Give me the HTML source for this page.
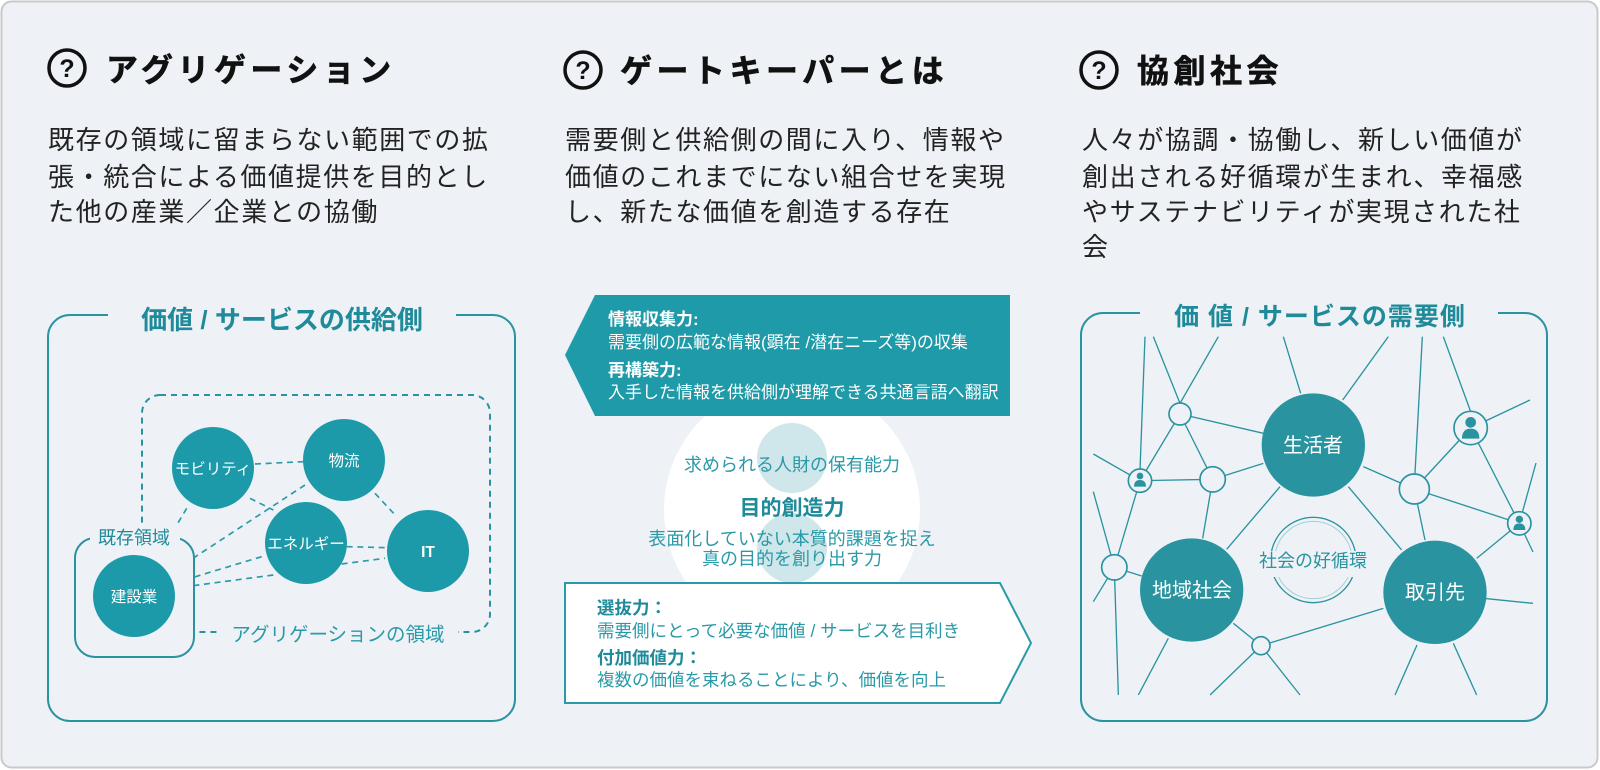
<!DOCTYPE html>
<html><head><meta charset="utf-8">
<style>
html,body{margin:0;padding:0;background:#fff;}
svg{display:block;}
text{font-family:"Liberation Sans","Noto Sans CJK JP",sans-serif;}
</style></head>
<body>
<svg width="1600" height="770" viewBox="0 0 1600 770" xmlns="http://www.w3.org/2000/svg">
<rect x="1.5" y="1.5" width="1596" height="766" rx="10" fill="#eef2f6" stroke="#c9c9c9" stroke-width="2"/>

<!-- Headers -->
<g fill="none" stroke="#111" stroke-width="3.5">
<circle cx="67" cy="68" r="18"/><circle cx="583" cy="70" r="18"/><circle cx="1099" cy="70" r="18"/>
</g>
<g font-size="25" font-weight="bold" fill="#111" text-anchor="middle">
<text x="67" y="77">?</text><text x="583" y="79">?</text><text x="1099" y="79">?</text>
</g>
<g font-size="32" font-weight="bold" fill="#111" letter-spacing="4.5" stroke="#111" stroke-width="0.6">
<text x="106" y="81">アグリゲーション</text>
<text x="620" y="82">ゲートキーパーとは</text>
<text x="1137" y="82">協創社会</text>
</g>
<g font-size="26" fill="#222" letter-spacing="1.6">
<text x="48" y="149">既存の領域に留まらない範囲での拡</text>
<text x="48" y="186">張・統合による価値提供を目的とし</text>
<text x="48" y="221">た他の産業／企業との協働</text>
<text x="565" y="149">需要側と供給側の間に入り、情報や</text>
<text x="565" y="186">価値のこれまでにない組合せを実現</text>
<text x="565" y="221">し、新たな価値を創造する存在</text>
<text x="1082" y="149">人々が協調・協働し、新しい価値が</text>
<text x="1082" y="186">創出される好循環が生まれ、幸福感</text>
<text x="1082" y="221">やサステナビリティが実現された社</text>
<text x="1082" y="256">会</text>
</g>

<!-- Left diagram -->
<rect x="48" y="315" width="467" height="406" rx="22" fill="none" stroke="#2a93a0" stroke-width="2"/>
<rect x="108" y="298" width="348" height="34" fill="#eef2f6"/>
<text x="282" y="329" font-size="26" font-weight="bold" fill="#1f8a99" text-anchor="middle">価値 / サービスの供給側</text>
<rect x="142" y="395" width="348" height="237" rx="18" fill="none" stroke="#2a93a0" stroke-width="2" stroke-dasharray="6 5"/>
<g transform="translate(40 290) scale(0.33333)" stroke="#2a9aa8" stroke-width="5" stroke-dasharray="18 14" fill="none">
<line x1="645" y1="522" x2="790" y2="515"/>
<line x1="630" y1="625" x2="700" y2="660"/>
<line x1="440" y1="655" x2="360" y2="790"/>
<line x1="795" y1="585" x2="390" y2="850"/>
<line x1="665" y1="800" x2="400" y2="880"/>
<line x1="700" y1="855" x2="400" y2="895"/>
<line x1="1005" y1="610" x2="1070" y2="680"/>
<line x1="920" y1="770" x2="1040" y2="773"/>
<line x1="905" y1="822" x2="1035" y2="805"/>
</g>
<rect x="75" y="538" width="119" height="119" rx="20" fill="#eef2f6" stroke="#2a93a0" stroke-width="2"/>
<rect x="90" y="524" width="90" height="26" fill="#eef2f6"/>
<text x="134" y="544" font-size="18" fill="#1f8a99" text-anchor="middle">既存領域</text>
<rect x="218" y="619" width="240" height="28" fill="#eef2f6"/>
<text x="338" y="641" font-size="19.5" fill="#2a9aa8" text-anchor="middle">アグリゲーションの領域</text>
<g fill="#1c9aa9">
<circle cx="213" cy="468" r="41"/><circle cx="344" cy="460" r="41"/><circle cx="306" cy="543" r="41"/>
<circle cx="428" cy="551" r="41"/><circle cx="134" cy="596" r="41"/>
</g>
<g font-size="15.5" fill="#fff" text-anchor="middle">
<text x="213" y="474">モビリティ</text><text x="344" y="466">物流</text><text x="306" y="549">エネルギー</text>
<text x="428" y="557" font-weight="bold">IT</text><text x="134" y="602">建設業</text>
</g>

<!-- Middle -->
<circle cx="792" cy="510" r="128" fill="#ffffff"/>
<circle cx="792" cy="458" r="35" fill="#cfe6ea"/>
<circle cx="792" cy="548" r="35" fill="#cfe6ea"/>
<polygon points="565,355 595,295 1010,295 1010,416 595,416" fill="#1e9aa8"/>
<g fill="#fff" font-size="17">
<text x="608" y="325" font-weight="bold">情報収集力:</text>
<text x="608" y="348">需要側の広範な情報(顕在 /潜在ニーズ等)の収集</text>
<text x="608" y="376" font-weight="bold">再構築力:</text>
<text x="608" y="398">入手した情報を供給側が理解できる共通言語へ翻訳</text>
</g>
<g fill="#2a9aa8" text-anchor="middle">
<text x="792" y="471" font-size="18">求められる人財の保有能力</text>
<text x="792" y="515" font-size="21" font-weight="bold" fill="#1f8a99">目的創造力</text>
<text x="792" y="545" font-size="18">表面化していない本質的課題を捉え</text>
<text x="792" y="565" font-size="18">真の目的を創り出す力</text>
</g>
<polygon points="565,583 1000,583 1031,643 1000,703 565,703" fill="#fff" stroke="#2a9aa8" stroke-width="2"/>
<g fill="#2a9aa8" font-size="17.5">
<text x="597" y="614" font-weight="bold" fill="#1f8a99">選抜力：</text>
<text x="597" y="637">需要側にとって必要な価値 / サービスを目利き</text>
<text x="597" y="664" font-weight="bold" fill="#1f8a99">付加価値力：</text>
<text x="597" y="686">複数の価値を束ねることにより、価値を向上</text>
</g>

<!-- Right diagram -->
<rect x="1081" y="313" width="466" height="408" rx="22" fill="none" stroke="#2a93a0" stroke-width="2"/>
<rect x="1140" y="296" width="358" height="34" fill="#eef2f6"/>
<text x="1320" y="325" font-size="25" font-weight="bold" fill="#1f8a99" text-anchor="middle" letter-spacing="1">価 値 / サービスの需要側</text>
<g transform="translate(1050 290) scale(0.33333)" stroke="#2a93a0" stroke-width="4" fill="none">
<line x1="285" y1="140" x2="270" y2="540"/>
<line x1="310" y1="140" x2="390" y2="340"/>
<line x1="505" y1="140" x2="390" y2="340"/>
<line x1="700" y1="140" x2="752" y2="310"/>
<line x1="1015" y1="140" x2="878" y2="330"/>
<line x1="1117" y1="140" x2="1095" y2="550"/>
<line x1="1180" y1="140" x2="1262" y2="365"/>
<line x1="1440" y1="330" x2="1262" y2="414"/>
<line x1="390" y1="372" x2="640" y2="430"/>
<line x1="390" y1="372" x2="270" y2="572"/>
<line x1="390" y1="372" x2="488" y2="568"/>
<line x1="130" y1="492" x2="270" y2="572"/>
<line x1="270" y1="572" x2="488" y2="568"/>
<line x1="488" y1="568" x2="640" y2="520"/>
<line x1="488" y1="568" x2="458" y2="745"/>
<line x1="270" y1="572" x2="193" y2="832"/>
<line x1="130" y1="605" x2="193" y2="832"/>
<line x1="193" y1="832" x2="130" y2="935"/>
<line x1="193" y1="832" x2="275" y2="858"/>
<line x1="193" y1="832" x2="205" y2="1215"/>
<line x1="530" y1="778" x2="690" y2="590"/>
<line x1="895" y1="590" x2="1055" y2="780"/>
<line x1="940" y1="530" x2="1093" y2="597"/>
<line x1="1093" y1="597" x2="1262" y2="414"/>
<line x1="1093" y1="597" x2="1408" y2="700"/>
<line x1="1262" y1="414" x2="1408" y2="700"/>
<line x1="1093" y1="597" x2="1125" y2="750"/>
<line x1="1408" y1="700" x2="1280" y2="805"/>
<line x1="1408" y1="700" x2="1458" y2="519"/>
<line x1="1408" y1="700" x2="1449" y2="786"/>
<line x1="1300" y1="925" x2="1449" y2="940"/>
<line x1="1101" y1="1065" x2="1035" y2="1215"/>
<line x1="1210" y1="1060" x2="1280" y2="1215"/>
<line x1="550" y1="1000" x2="633" y2="1067"/>
<line x1="633" y1="1067" x2="1000" y2="955"/>
<line x1="633" y1="1067" x2="480" y2="1215"/>
<line x1="633" y1="1067" x2="750" y2="1215"/>
<line x1="355" y1="1045" x2="265" y2="1215"/>
</g>
<g transform="translate(1050 290) scale(0.33333)">
<g fill="#eef2f6" stroke="#2a93a0" stroke-width="5">
<circle cx="390" cy="372" r="33"/><circle cx="270" cy="572" r="35"/><circle cx="488" cy="568" r="38"/>
<circle cx="193" cy="832" r="38"/><circle cx="633" cy="1067" r="27"/><circle cx="1093" cy="597" r="45"/>
<circle cx="1262" cy="414" r="50"/><circle cx="1408" cy="700" r="35"/>
</g>
<g fill="#2a93a0">
<circle cx="270" cy="558" r="10"/><path d="M252 590 Q252 570 270 570 Q288 570 288 590 Z"/>
<circle cx="1262" cy="397" r="16"/><path d="M1236 446 Q1236 416 1262 416 Q1288 416 1288 446 Z"/>
<circle cx="1408" cy="688" r="11"/><path d="M1390 720 Q1390 700 1408 700 Q1426 700 1426 720 Z"/>
<circle cx="790" cy="465" r="155"/><circle cx="425" cy="900" r="155"/><circle cx="1155" cy="907" r="155"/>
</g>
<circle cx="790" cy="810" r="128" fill="none" stroke="#2a93a0" stroke-width="4"/>
<circle cx="790" cy="810" r="116" fill="none" stroke="#9fcdd4" stroke-width="3"/>
</g>
<rect x="1248" y="551" width="130" height="26" fill="#eef2f6"/>
<text x="1313" y="567" font-size="18" fill="#2a93a0" text-anchor="middle">社会の好循環</text>
<g font-size="20" fill="#fff" text-anchor="middle">
<text x="1313" y="452">生活者</text><text x="1192" y="597">地域社会</text><text x="1435" y="599">取引先</text>
</g>
</svg>
</body></html>
